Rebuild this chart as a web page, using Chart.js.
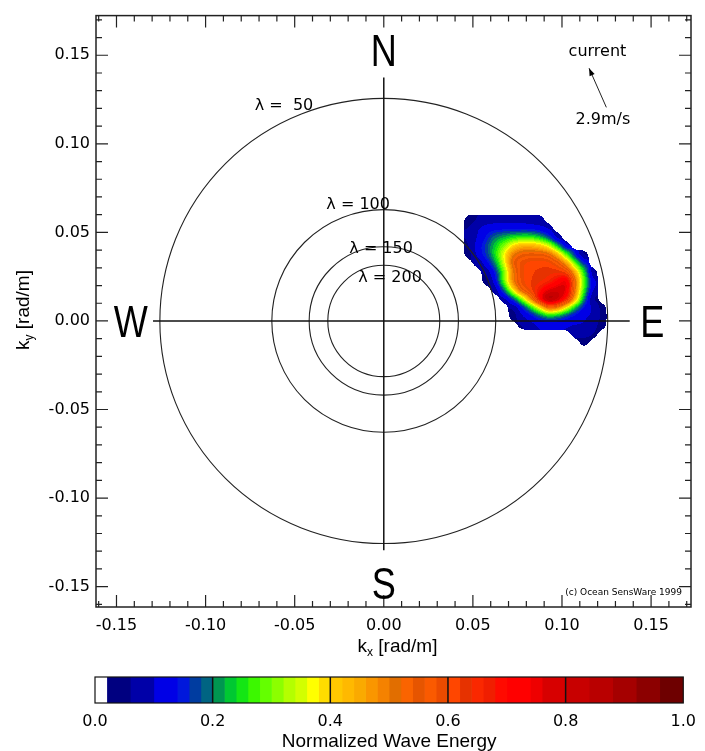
<!DOCTYPE html>
<html>
<head>
<meta charset="utf-8">
<script src="https://cdn.jsdelivr.net/npm/chart.js@4.4.0/dist/chart.umd.min.js"></script>
<style>
  html, body { margin: 0; padding: 0; background: #fff; }
  #wrap { position: relative; width: 705px; height: 751px; }
  #specChart { position: absolute; left: 0; top: 0; }
  #barChart { position: absolute; left: 0; top: 665px; }
</style>
</head>
<body>
<div id="wrap">
  <canvas id="specChart" width="705" height="665"></canvas>
  <canvas id="barChart" width="705" height="86"></canvas>
</div>
<script>
// axis range of the wavenumber plane [rad/m]
const AX_MIN = -0.1615;
const AX_MAX = 0.1724;

// wavelength circles (k = 2*pi / lambda)
const LAMBDAS = [50, 100, 150, 200];
const LAMBDA_TEXT = ['λ =  50', 'λ = 100', 'λ = 150', 'λ = 200'];
const LAMBDA_TEXT_AT = [[-0.056, 0.1217], [-0.0144, 0.0654], [-0.0015, 0.0406], [0.0035, 0.0242]];

// compass letters
const COMPASS = ['N', 'S', 'W', 'E'];
const COMPASS_AT = [[0, 0.1527], [0, -0.1482], [-0.142, 0], [0.1507, 0]];

// cross lines through the origin
const CROSS_H = [{ x: -0.1295, y: 0 }, { x: 0.138, y: 0 }];
const CROSS_V = [{ x: 0, y: 0.1375 }, { x: 0, y: -0.1295 }];

// surface current
const CURRENT_SPEED = '2.9m/s';
const CURRENT_ARROW = [[0.1249, 0.1206], [0.1152, 0.1427]];

// normalized wave energy (percent), cells of 0.005 rad/m
// columns kx = 0.045 .. 0.125, rows ky = 0.060 .. -0.015 (top to bottom)
const ENERGY_KX0 = 0.045;
const ENERGY_KY0 = 0.060;
const ENERGY_STEP = 0.005;
const ENERGY = [
  [3, 6, 7, 8, 8, 8, 8, 7, 6, 0, 0, 0, 0, 0, 0, 0],
  [6, 10, 12, 12, 12, 12, 12, 12, 11, 8, 0, 0, 0, 0, 0, 0],
  [6, 10, 14, 20, 22, 24, 25, 25, 22, 16, 4, 0, 0, 0, 0, 0],
  [5, 12, 17, 24, 30, 40, 45, 45, 42, 36, 22, 6, 0, 0, 0, 0],
  [3, 12, 16, 25, 38, 52, 55, 56, 56, 55, 45, 28, 12, 3, 0, 0],
  [0, 5, 12, 20, 35, 56, 60, 62, 62, 62, 58, 48, 28, 14, 0, 0],
  [0, 0, 6, 14, 28, 50, 60, 62, 62, 63, 64, 62, 45, 25, 3, 0],
  [0, 0, 3, 12, 30, 52, 60, 62, 63, 65, 70, 80, 52, 28, 10, 0],
  [0, 0, 0, 5, 18, 40, 58, 62, 68, 75, 80, 78, 50, 25, 8, 0],
  [0, 0, 0, 0, 6, 15, 30, 50, 75, 95, 85, 72, 45, 20, 3, 0],
  [0, 0, 0, 0, 0, 5, 12, 22, 35, 55, 50, 35, 20, 12, 10, 4],
  [0, 0, 0, 0, 0, 3, 10, 12, 16, 20, 18, 14, 12, 10, 10, 5],
  [0, 0, 0, 0, 0, 0, 5, 8, 10, 10, 10, 10, 10, 10, 8, 3],
  [0, 0, 0, 0, 0, 0, 0, 0, 0, 0, 0, 0, 6, 8, 5, 0],
  [0, 0, 0, 0, 0, 0, 0, 0, 0, 0, 0, 0, 0, 3, 0, 0]
];

// stepped colour table (bin start values and colours)
const CMAP_STARTS = [0, 0.02, 0.06, 0.10, 0.14, 0.16, 0.18, 0.20, 0.22, 0.24, 0.26, 0.28, 0.30, 0.32, 0.34, 0.36,
  0.38, 0.40, 0.42, 0.44, 0.46, 0.48, 0.50, 0.52, 0.54, 0.56, 0.58, 0.60, 0.62, 0.64, 0.66, 0.68,
  0.70, 0.74, 0.76, 0.80, 0.84, 0.88, 0.92, 0.96];
const CMAP_COLORS = ['#ffffff', '#000080', '#0000a8', '#0000e6', '#0018dc', '#003ca0', '#006482', '#009650', '#00c832', '#14e614', '#3cf800', '#64ff00', '#8cff00', '#b4ff00', '#d2ff00', '#ffff00',
  '#ffdc00', '#ffc800', '#ffb900', '#faaa00', '#fa9600', '#f58200', '#e16e00', '#fa6400', '#e65500', '#fa5a00', '#eb4b00', '#ff4600', '#e63200', '#fa2800', '#f01e00', '#ff0a00',
  '#ff0000', '#ee0000', '#d70000', '#c80000', '#b90000', '#a50000', '#8c0000', '#6e0000'];
const CBAR_DIVIDERS = [0.2, 0.4, 0.6, 0.8];

const FONT = 'DejaVu Sans';
const TITLE_FONT = '"Liberation Sans", Arial, sans-serif';
const CMAP_RGB = CMAP_COLORS.map(h => [1, 3, 5].map(i => parseInt(h.slice(i, i + 2), 16)));

function isMajor(v) { return Math.abs(Math.round(v * 100)) % 5 === 0; }
function fmt(v) {
  const r = Math.round(v * 100) / 100;
  return (r < 0 ? '-' : '') + Math.abs(r).toFixed(2);
}
function cmapIndex(v) {
  let k = 0;
  for (let i = 0; i < CMAP_STARTS.length; i++) if (v >= CMAP_STARTS[i]) k = i;
  return k;
}

// shaded image of the energy cells (gaussian-weighted), placed with the chart scales
function energyImage(x, y) {
  const rows = ENERGY.length, cols = ENERGY[0].length;
  const pad = 6;
  const left = Math.floor(x.getPixelForValue(ENERGY_KX0)) - pad;
  const right = Math.ceil(x.getPixelForValue(ENERGY_KX0 + cols * ENERGY_STEP)) + pad;
  const top = Math.floor(y.getPixelForValue(ENERGY_KY0)) - pad;
  const bottom = Math.ceil(y.getPixelForValue(ENERGY_KY0 - rows * ENERGY_STEP)) + pad;
  const w = right - left, h = bottom - top;
  const cv = document.createElement('canvas');
  cv.width = w; cv.height = h;
  const c2 = cv.getContext('2d');
  const img = c2.createImageData(w, h);
  const s2 = 2 * 0.55 * 0.55;
  for (let py = 0; py < h; py++) {
    const fr = (ENERGY_KY0 - y.getValueForPixel(top + py + 0.5)) / ENERGY_STEP - 0.5;
    for (let px = 0; px < w; px++) {
      const fc = (x.getValueForPixel(left + px + 0.5) - ENERGY_KX0) / ENERGY_STEP - 0.5;
      let gsum = 0, occ = 0, val = 0;
      for (let r = Math.round(fr) - 2; r <= Math.round(fr) + 2; r++) {
        for (let c = Math.round(fc) - 2; c <= Math.round(fc) + 2; c++) {
          const g = Math.exp(-((r - fr) ** 2 + (c - fc) ** 2) / s2);
          gsum += g;
          const e = (r >= 0 && r < rows && c >= 0 && c < cols) ? ENERGY[r][c] : 0;
          if (e > 0) { occ += g; val += g * e; }
        }
      }
      if (occ / gsum < 0.5) continue;
      const rgb = CMAP_RGB[cmapIndex(Math.max(val / occ / 100, 0.02))];
      const k = (py * w + px) * 4;
      img.data[k] = rgb[0]; img.data[k + 1] = rgb[1]; img.data[k + 2] = rgb[2]; img.data[k + 3] = 255;
    }
  }
  c2.putImageData(img, 0, 0);
  return { cv, left, top };
}

const spectrumPlugin = {
  id: 'spectrum',
  beforeDatasetsDraw(chart) {
    const { ctx, scales: { x, y } } = chart;
    ctx.save();
    const e = energyImage(x, y);
    ctx.drawImage(e.cv, e.left, e.top);

    // wavelength circles
    const cx = x.getPixelForValue(0), cy = y.getPixelForValue(0);
    ctx.strokeStyle = '#222';
    ctx.lineWidth = 1.1;
    LAMBDAS.forEach(l => {
      const k = 2 * Math.PI / l;
      ctx.beginPath();
      ctx.ellipse(cx, cy, x.getPixelForValue(k) - cx, cy - y.getPixelForValue(k), 0, 0, 2 * Math.PI);
      ctx.stroke();
    });
    ctx.restore();
  }
};

const decorPlugin = {
  id: 'decor',
  afterDraw(chart) {
    const { ctx, chartArea: a, scales: { x, y } } = chart;
    ctx.save();

    // frame and inward ticks on all sides
    ctx.strokeStyle = '#222';
    ctx.lineWidth = 1.5;
    ctx.strokeRect(a.left, a.top, a.right - a.left, a.bottom - a.top);
    ctx.lineWidth = 1.2;
    ctx.beginPath();
    x.ticks.forEach(t => {
      const p = x.getPixelForValue(t.value), len = isMajor(t.value) ? 12 : 6;
      ctx.moveTo(p, a.bottom); ctx.lineTo(p, a.bottom - len);
      ctx.moveTo(p, a.top); ctx.lineTo(p, a.top + len);
    });
    y.ticks.forEach(t => {
      const p = y.getPixelForValue(t.value), len = isMajor(t.value) ? 12 : 6;
      ctx.moveTo(a.left, p); ctx.lineTo(a.left + len, p);
      ctx.moveTo(a.right, p); ctx.lineTo(a.right - len, p);
    });
    ctx.stroke();

    ctx.fillStyle = '#000';

    // compass letters
    ctx.font = '44px ' + TITLE_FONT;
    ctx.textAlign = 'center';
    ctx.textBaseline = 'alphabetic';
    COMPASS.forEach((c, i) => {
      ctx.save();
      ctx.translate(x.getPixelForValue(COMPASS_AT[i][0]), y.getPixelForValue(COMPASS_AT[i][1]) + 15.8);
      ctx.scale(0.82, 1);
      ctx.fillText(c, 0, 0);
      ctx.restore();
    });

    // wavelength labels
    ctx.font = '16px "' + FONT + '"';
    ctx.textBaseline = 'middle';
    LAMBDA_TEXT.forEach((s, i) => {
      ctx.fillText(s, x.getPixelForValue(LAMBDA_TEXT_AT[i][0]), y.getPixelForValue(LAMBDA_TEXT_AT[i][1]));
    });

    // current arrow
    ctx.fillText('current', x.getPixelForValue(0.1199), y.getPixelForValue(0.152));
    ctx.fillText(CURRENT_SPEED, x.getPixelForValue(0.123), y.getPixelForValue(0.1138));
    const x0 = x.getPixelForValue(CURRENT_ARROW[0][0]), y0 = y.getPixelForValue(CURRENT_ARROW[0][1]);
    const x1 = x.getPixelForValue(CURRENT_ARROW[1][0]), y1 = y.getPixelForValue(CURRENT_ARROW[1][1]);
    const ang = Math.atan2(y1 - y0, x1 - x0);
    ctx.lineWidth = 1;
    ctx.beginPath(); ctx.moveTo(x0, y0); ctx.lineTo(x1, y1); ctx.stroke();
    ctx.beginPath();
    ctx.moveTo(x1, y1);
    ctx.lineTo(x1 - 8 * Math.cos(ang - 0.35), y1 - 8 * Math.sin(ang - 0.35));
    ctx.lineTo(x1 - 8 * Math.cos(ang + 0.35), y1 - 8 * Math.sin(ang + 0.35));
    ctx.closePath(); ctx.fill();

    // credit
    ctx.font = '9px "' + FONT + '"';
    ctx.textAlign = 'right';
    ctx.fillText('(c) Ocean SensWare 1999', a.right - 9, a.bottom - 14);

    // axis titles with subscripts
    function subTitle(base, sub, rest, cxp, cyp, rot) {
      ctx.save();
      ctx.translate(cxp, cyp);
      if (rot) ctx.rotate(-Math.PI / 2);
      ctx.textAlign = 'left';
      ctx.textBaseline = 'alphabetic';
      const big = '19px ' + TITLE_FONT, small = '12px ' + TITLE_FONT;
      ctx.font = big; const w1 = ctx.measureText(base).width, w3 = ctx.measureText(rest).width;
      ctx.font = small; const w2 = ctx.measureText(sub).width;
      let px = -(w1 + w2 + w3) / 2;
      ctx.font = big; ctx.fillText(base, px, 5); px += w1;
      ctx.font = small; ctx.fillText(sub, px, 9); px += w2;
      ctx.font = big; ctx.fillText(rest, px, 5);
      ctx.restore();
    }
    subTitle('k', 'x', ' [rad/m]', (a.left + a.right) / 2 + 4, 647, false);
    subTitle('k', 'y', ' [rad/m]', 24, 310, true);

    ctx.restore();
  }
};

const tickFont = { family: FONT, size: 16 };

new Chart(document.getElementById('specChart'), {
  type: 'scatter',
  data: {
    datasets: [
      { data: CROSS_H, showLine: true, borderColor: '#111', borderWidth: 1.5, pointRadius: 0 },
      { data: CROSS_V, showLine: true, borderColor: '#111', borderWidth: 1.5, pointRadius: 0 }
    ]
  },
  options: {
    responsive: false,
    animation: false,
    layout: { padding: { left: 0, top: 14, right: 14, bottom: 0 } },
    plugins: { legend: { display: false }, tooltip: { enabled: false } },
    scales: {
      x: {
        type: 'linear', min: AX_MIN, max: AX_MAX,
        afterFit: s => { s.height = 58; },
        grid: { display: false, drawTicks: false },
        border: { display: false },
        ticks: {
          stepSize: 0.01, includeBounds: false, autoSkip: false, maxRotation: 0, padding: 9,
          color: '#000', font: tickFont,
          callback: v => isMajor(v) ? fmt(v) : ''
        }
      },
      y: {
        type: 'linear', min: AX_MIN, max: AX_MAX,
        afterFit: s => { s.width = 96; },
        grid: { display: false, drawTicks: false },
        border: { display: false },
        ticks: {
          stepSize: 0.01, includeBounds: false, autoSkip: false, padding: 6,
          color: '#000', font: tickFont,
          callback: v => isMajor(v) ? fmt(v) : ''
        }
      }
    }
  },
  plugins: [spectrumPlugin, decorPlugin]
});

// colour bar
const cbarPlugin = {
  id: 'cbarFrame',
  afterDraw(chart) {
    const { ctx, chartArea: a, scales: { x } } = chart;
    ctx.save();
    ctx.strokeStyle = '#111';
    ctx.lineWidth = 1.5;
    ctx.beginPath();
    CBAR_DIVIDERS.forEach(v => {
      const p = x.getPixelForValue(v);
      ctx.moveTo(p, a.top); ctx.lineTo(p, a.bottom);
    });
    ctx.stroke();
    ctx.lineWidth = 1.2;
    ctx.strokeRect(a.left, a.top, a.right - a.left, a.bottom - a.top);
    ctx.restore();
  }
};

new Chart(document.getElementById('barChart'), {
  type: 'bar',
  data: {
    labels: [''],
    datasets: CMAP_STARTS.map((s, i) => ({
      data: [[s, i + 1 < CMAP_STARTS.length ? CMAP_STARTS[i + 1] : 1]],
      backgroundColor: CMAP_COLORS[i],
      barPercentage: 1, categoryPercentage: 1, grouped: false, borderWidth: 0
    }))
  },
  options: {
    indexAxis: 'y',
    responsive: false,
    animation: false,
    layout: { padding: { left: 95, right: 14, top: 12, bottom: 0 } },
    plugins: { legend: { display: false }, tooltip: { enabled: false } },
    scales: {
      x: {
        type: 'linear', min: 0, max: 1,
        afterFit: s => { s.height = 48; },
        grid: { display: false, drawTicks: false },
        border: { display: false },
        ticks: { stepSize: 0.2, padding: 9, maxRotation: 0, color: '#000', font: tickFont, callback: v => v.toFixed(1) },
        title: {
          display: true, text: 'Normalized Wave Energy', color: '#000',
          font: { family: 'Liberation Sans', size: 19 }, padding: { top: 0, bottom: -2 }
        }
      },
      y: { display: false }
    }
  },
  plugins: [cbarPlugin]
});
</script>
</body>
</html>
